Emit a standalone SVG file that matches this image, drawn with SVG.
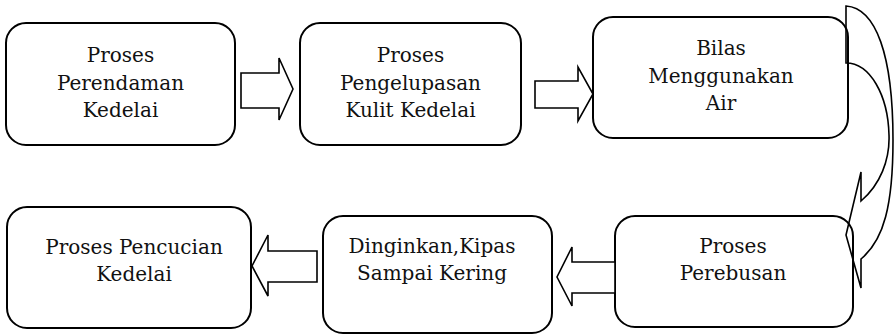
<svg xmlns="http://www.w3.org/2000/svg" width="896" height="336" viewBox="0 0 896 336">
<style>
.box{fill:#fff;stroke:#000;stroke-width:2}
.arr{fill:#fff;stroke:#000;stroke-width:1.6;stroke-linejoin:miter}
.carr{fill:none;stroke:#000;stroke-width:1.6}
text{font-family:"DejaVu Serif","Liberation Serif",serif;font-size:20px;fill:#111;text-anchor:middle}
</style>
<rect width="896" height="336" fill="#fff"/>
<g id="n1"><rect class="box" x="6" y="23" width="229" height="122" rx="20"/>
<text x="120.5" y="62">Proses</text><text x="120.5" y="90">Perendaman</text><text x="120.5" y="117">Kedelai</text></g>
<g id="n2"><rect class="box" x="300" y="23" width="221" height="122" rx="20"/>
<text x="410.5" y="62">Proses</text><text x="410.5" y="90">Pengelupasan</text><text x="410.5" y="117">Kulit Kedelai</text></g>
<g id="n3"><rect class="box" x="593" y="17" width="255" height="121" rx="20"/>
<text x="721" y="55">Bilas</text><text x="721" y="83">Menggunakan</text><text x="721" y="110">Air</text></g>
<g id="n4"><rect class="box" x="615" y="216" width="238" height="111" rx="20"/>
<text x="733" y="253">Proses</text><text x="733" y="280">Perebusan</text></g>
<g id="n5"><rect class="box" x="323" y="216" width="229" height="117" rx="20"/>
<text x="432" y="253">Dinginkan,Kipas</text><text x="432" y="280">Sampai Kering</text></g>
<g id="n6"><rect class="box" x="7" y="207" width="244" height="121" rx="20"/>
<text x="134" y="254">Proses Pencucian</text><text x="134" y="281">Kedelai</text></g>
<g id="connectors">
<path class="arr" d="M241,73 L279,73 L279,58 L293,89 L279,120 L279,108 L241,108 Z"/>
<path class="arr" d="M535,81 L578,81 L578,67 L593,94 L578,121 L578,108 L535,108 Z"/>
<path class="arr" d="M615,262 L572,262 L572,247 L557,277 L572,306 L572,293 L615,293 Z"/>
<path class="arr" d="M317,251 L268,251 L268,235 L252,266 L268,296 L268,282 L317,282 Z"/>
<path class="carr" d="M846,6 C876,8 893,55 893,140 C893,205 884,240 861,259 L861,288 L846,235 L861,172 L861,201 C880,185 890,160 889,135 C888,95 870,63 846,63 Z"/>
</g>
</svg>
